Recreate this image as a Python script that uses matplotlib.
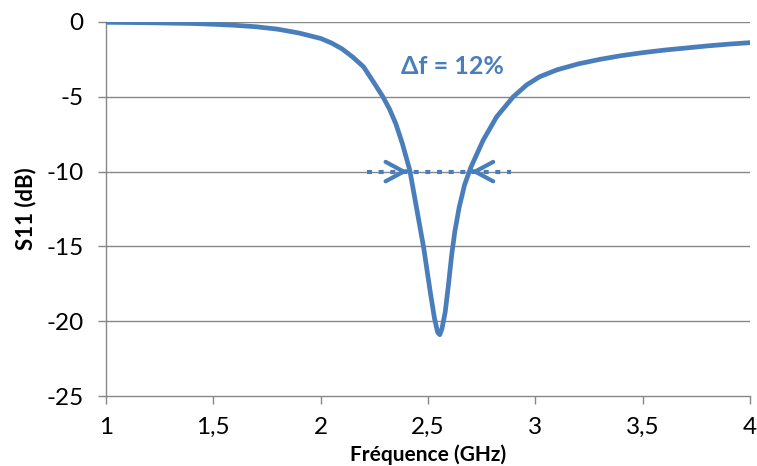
import matplotlib
matplotlib.use("Agg")
import matplotlib.pyplot as plt
from matplotlib.ticker import FixedLocator

# ---- data ----
freq = [1.0, 1.2, 1.4, 1.5, 1.6, 1.7, 1.8, 1.9, 2.0, 2.05, 2.1, 2.15, 2.2,
        2.25, 2.29, 2.32, 2.35, 2.38, 2.415, 2.45, 2.48, 2.51, 2.53, 2.545,
        2.555, 2.565, 2.58, 2.595, 2.61, 2.625, 2.645, 2.67, 2.70, 2.757,
        2.82, 2.897, 2.96, 3.02, 3.1, 3.2, 3.3, 3.4, 3.5, 3.6, 3.7, 3.8, 3.9,
        4.0]
s11 = [-0.02, -0.05, -0.1, -0.15, -0.22, -0.32, -0.48, -0.74, -1.1, -1.4,
       -1.8, -2.35, -3.0, -4.1, -5.0, -5.8, -6.8, -8.1, -9.9, -12.7, -15.1,
       -18.0, -19.8, -20.75, -20.9, -20.5, -19.4, -17.6, -15.6, -14.0, -12.4,
       -10.9, -9.7, -7.9, -6.33, -5.0, -4.2, -3.66, -3.2, -2.8, -2.5, -2.25,
       -2.05, -1.88, -1.74, -1.6, -1.48, -1.38]

x_ticks = [1, 1.5, 2, 2.5, 3, 3.5, 4]
x_tick_labels = ["1", "1,5", "2", "2,5", "3", "3,5", "4"]
y_ticks = [0, -5, -10, -15, -20, -25]
y_tick_labels = ["0", "-5", "-10", "-15", "-20", "-25"]

bw_level = -10
bw_low = 2.407      # -10 dB crossing (low side)
bw_high = 2.699     # -10 dB crossing (high side)
marker_start = 2.216
marker_end = 2.888
annot_text = "\u0394f = 12%"
annot_pos = (2.616, -3.0)

blue = "#4A7EBB"
grey = "#878787"

plt.rcParams['font.family'] = ['Lato', 'DejaVu Sans']

fig = plt.figure(figsize=(7.57, 4.66), dpi=100)
ax = fig.add_axes([0.140, 0.1502, 0.8508, 0.8026])

ax.set_xlim(1, 4)
ax.set_ylim(-25, 0)

for yv in y_ticks[:-1]:
    ax.axhline(yv, color=grey, lw=1.0, zorder=1)

ax.plot(freq, s11, color=blue, lw=3.4, solid_joinstyle='round',
        solid_capstyle='round', zorder=3)

# bandwidth marker
ax.plot([marker_start, marker_end], [bw_level, bw_level], color=blue, lw=3.0,
        linestyle=(0, (1.2, 1.6)), dash_capstyle='butt', zorder=4)
for tip, d in [(bw_low, -0.01), (bw_high, 0.01)]:
    ax.annotate('', xy=(tip, bw_level), xytext=(tip + d, bw_level),
                arrowprops=dict(arrowstyle='->,head_length=1.3,head_width=0.7',
                                color=blue, lw=3.0, shrinkA=0, shrinkB=0,
                                capstyle='round', joinstyle='round'),
                zorder=5)

ax.text(annot_pos[0], annot_pos[1], annot_text, color=blue, fontsize=18,
        fontweight='bold', ha='center', va='center')

ax.xaxis.set_major_locator(FixedLocator(x_ticks))
ax.set_xticklabels(x_tick_labels)
ax.yaxis.set_major_locator(FixedLocator(y_ticks))
ax.set_yticklabels(y_tick_labels)

for s in ['top', 'right']:
    ax.spines[s].set_visible(False)
for s in ['left', 'bottom']:
    ax.spines[s].set_color(grey)
    ax.spines[s].set_linewidth(1.0)

ax.tick_params(axis='both', colors=grey, labelcolor='black', labelsize=17.5,
               length=6, width=1.0, direction='out')
ax.tick_params(axis='y', pad=10)
ax.tick_params(axis='x', pad=9)

ax.set_xlabel("Fréquence (GHz)", fontsize=15, fontweight='bold')
ax.xaxis.label.set_va('center')
ax.xaxis.set_label_coords(0.5, -(455 - 396) / 374.0)
ax.set_ylabel("S11 (dB)", fontsize=16, fontweight='bold')
ax.yaxis.label.set_va('center')
ax.yaxis.set_label_coords(-(106 - 26) / 644.0, 0.5)

fig.savefig("out.png", dpi=100)
